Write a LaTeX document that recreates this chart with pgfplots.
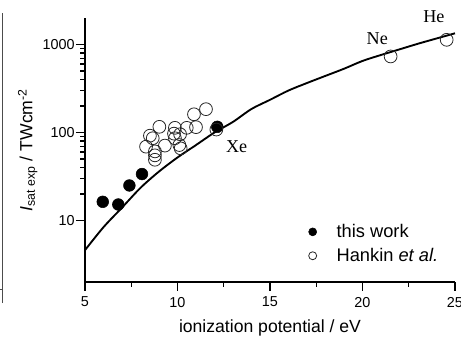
\documentclass[border=0pt]{standalone}
\usepackage{pgfplots}
\pgfplotsset{compat=1.18}
\usepackage{fontspec}
\setmainfont{Liberation Sans}
\newfontfamily\timesf{Liberation Serif}
\usetikzlibrary{calc}
\pgfplotsset{smallleg/.style={legend image code/.code={\path (0cm,0cm) (0.85cm,0cm);\draw[##1, mark size=3pt] plot coordinates {(0.3cm,0cm)};}}}
\newcommand{\legfont}{\fontsize{13.7}{16}\selectfont}
\begin{document}
\begin{tikzpicture}
\begin{axis}[
  name=ax,
  scale only axis,
  width=277.5pt, height=198pt,
  xmin=5, xmax=25, ymin=2, ymax=2000,
  ymode=log,
  axis lines=left,
  axis line style={-, line width=0.9pt},
  every tick/.style={line width=0.8pt, black},
  tick align=outside,
  major tick length=6.75pt, minor tick length=3.4pt,
  xtick={5,10,15,20,25},
  minor xtick={7.5,12.5,17.5,22.5},
  ytick={10,100,1000},
  yticklabels={10,100,1000},
  /pgf/number format/assume math mode=true,
  tick label style={font=\fontsize{10.8}{12}\selectfont},
  yticklabel style={xshift=2.5pt},
  xticklabel style={yshift=-1pt},
  xlabel={ionization potential / eV},
  ylabel={{\itshape I}\textsubscript{sat exp} / TWcm\textsuperscript{-2}},
  label style={font=\fontsize{13.2}{15}\selectfont},
  xlabel style={at={(axis description cs:0.5,0)}, anchor=center, yshift=-34.5pt},
  ylabel style={at={(axis description cs:0,0.5)}, anchor=center, yshift=43pt},
  clip=false,
  legend style={at={(0.572,0.24)}, anchor=north west, draw=none, fill=none,
    font=\legfont, row sep=2.5pt},
  legend cell align=left,
]
\addplot[black, line width=1.4pt, smooth, forget plot] coordinates {
(5,4.6) (6,8.4) (7,14.0) (8,23.5) (9,36) (10,52) (11,72) (12,100) (13,132)
(14,185) (15,235) (16,300) (17,365) (18,440) (19,530) (20,650) (21,760)
(22,880) (23,1020) (24,1170) (25,1340)};
\addplot[only marks, mark=*, mark size=4.4pt, black, fill=black, smallleg]
coordinates {(5.96,16.3) (6.8,15.2) (7.4,25) (8.08,33.7) (12.15,116)};
\addlegendentry{\legfont this work}
\addplot[only marks, mark=o, mark size=4.8pt, black!85, line width=0.6pt, smallleg]
coordinates {
(11.54,184) (10.89,161) (9.02,116) (9.86,113) (10.50,113) (11.0,115)
(8.51,92) (9.81,97) (10.14,95.5) (8.66,86) (8.30,69) (9.32,71) (10.1,72)
(9.86,86) (10.17,66) (8.78,61) (8.78,55) (8.78,49) (12.1,108)
(21.52,731) (24.55,1130)};
\addlegendentry{\legfont Hankin \textit{et al.}}
\node[font=\timesf\fontsize{13.6}{16}\selectfont] at (axis cs:13.2,69) {Xe};
\node[font=\timesf\fontsize{13.6}{16}\selectfont] at (axis cs:20.8,1160) {Ne};
\node[font=\timesf\fontsize{13.6}{16}\selectfont] at (axis cs:23.86,2070) {He};
\end{axis}
\draw[black!70, line width=0.6pt] ($(ax.south west)+(-62.25pt,-15.75pt)$) -- ($(ax.north west)+(-62.25pt,3.75pt)$);
\draw[black!70, line width=0.6pt] ($(ax.south west)+(-62.25pt,-5.25pt)$) -- ($(ax.south west)+(-64pt,-5.25pt)$);
\pgfresetboundingbox
\useasboundingbox ($(ax.south west)+(-63.75pt,-43.5pt)$) rectangle ($(ax.north east)+(4.5pt,13.5pt)$);
\end{tikzpicture}
\end{document}
